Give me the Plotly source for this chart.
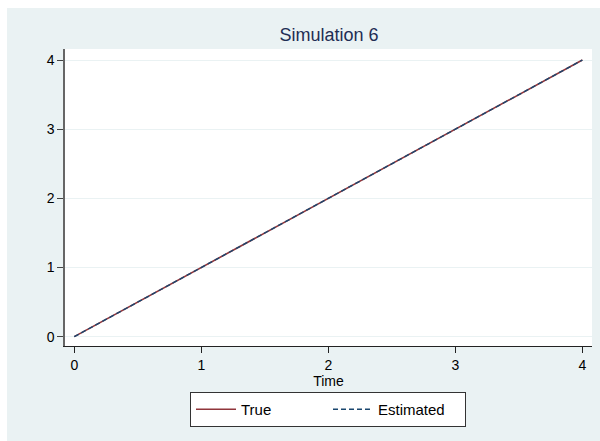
import plotly.graph_objects as go

time = [0, 1, 2, 3, 4]
true_vals = [0, 1, 2, 3, 4]
est_vals = [0, 1, 2, 3, 4]
xticks = [0, 1, 2, 3, 4]
yticks = [0, 1, 2, 3, 4]

FONT = "Liberation Sans, Arial, sans-serif"
BG = "#EAF2F3"

fig = go.Figure()
fig.add_trace(go.Scatter(x=time, y=true_vals, mode="lines", name="True",
                         line=dict(color="#90353B", width=1.6)))
fig.add_trace(go.Scatter(x=time, y=est_vals, mode="lines", name="Estimated",
                         line=dict(color="#1A476F", width=1.4, dash="5px,3px")))

# plot area px: x 65-592, y 49-346
L, R, T, B = 65, 8, 49, 95
W, H = 600, 441
pw, ph = W - L - R, H - T - B

def px_x(p):
    return (p - L) / pw

def px_y(p):
    return (H - B - p) / ph

fig.add_shape(type="rect", xref="paper", yref="paper",
              x0=px_x(7), x1=px_x(601), y0=px_y(442), y1=px_y(8),
              fillcolor=BG, line=dict(width=0), layer="below")
fig.add_shape(type="rect", xref="paper", yref="paper",
              x0=0, x1=1, y0=0, y1=1,
              fillcolor="white", line=dict(width=0), layer="below")

fig.update_layout(
    width=W, height=H,
    margin=dict(l=L, r=R, t=T, b=B),
    paper_bgcolor="white",
    plot_bgcolor="white",
    font=dict(family=FONT, color="black", size=14),
    title=dict(text="Simulation 6", x=px_x(329), xref="paper", xanchor="center",
               y=1 - 35 / H, yanchor="middle",
               font=dict(family=FONT, size=18, color="#1E2D53")),
    showlegend=True,
    legend=dict(orientation="h", x=px_x(328), xanchor="center",
                y=px_y(409.5), yanchor="middle",
                bgcolor="white", bordercolor="#333", borderwidth=1,
                font=dict(family=FONT, size=15, color="black"),
                entrywidth=82, itemwidth=40),
    xaxis=dict(range=[-0.073, 4.076], tickvals=xticks, ticktext=[str(v) for v in xticks],
               ticks="outside", ticklen=6, tickcolor="#222", tickwidth=1,
               showline=True, linecolor="#222", linewidth=1, mirror=False,
               showgrid=False, zeroline=False,
               title=dict(text="Time", standoff=2, font=dict(family=FONT, size=14)),
               tickfont=dict(family=FONT, size=14)),
    yaxis=dict(range=[-0.135, 4.16], tickvals=yticks, ticktext=[str(v) for v in yticks],
               ticks="outside", ticklen=6, tickcolor="#444", tickwidth=1,
               showline=True, linecolor="#666", linewidth=1.5, mirror=False,
               showgrid=True, gridcolor=BG, gridwidth=1, zeroline=False,
               tickfont=dict(family=FONT, size=14)),
)

fig.write_html("out.html")
